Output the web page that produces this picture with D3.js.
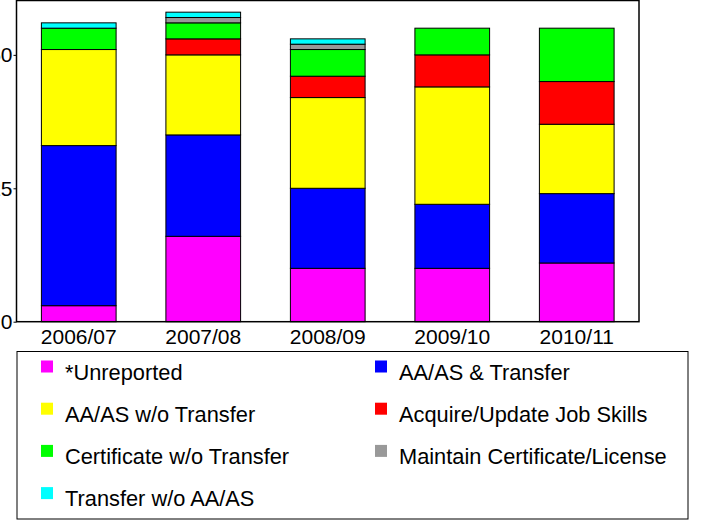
<!DOCTYPE html>
<html>
<head>
<meta charset="utf-8">
<script src="https://cdn.jsdelivr.net/npm/d3@7"></script>
<style>
  body { margin: 0; background: #fff; }
  svg { display: block; font-family: "Liberation Sans", Arial, sans-serif; }
</style>
</head>
<body>
<svg id="chart" width="702" height="523"></svg>
<script>
// years on the x axis
const years = ["2006/07", "2007/08", "2008/09", "2009/10", "2010/11"];

// series, bottom of the stack first
const seriesNames = [
    "*Unreported",
    "AA/AS & Transfer",
    "AA/AS w/o Transfer",
    "Acquire/Update Job Skills",
    "Certificate w/o Transfer",
    "Maintain Certificate/License",
    "Transfer w/o AA/AS"
];
const seriesColors = ["#ff00ff", "#0000ff", "#ffff00", "#ff0000", "#00ff00", "#999999", "#00ffff"];

const unreported   = [3, 16, 10, 10, 11];
const aaTransfer   = [30, 19, 15, 12, 13];
const aaNoTransfer = [18, 15, 17, 22, 13];
const jobSkills    = [0, 3, 4, 6, 8];
const certificate  = [4, 3, 5, 5, 10];
const maintainCert = [0, 1, 1, 0, 0];
const transferOnly = [1, 1, 1, 0, 0];

const yTicks = [0, 25, 50];

const seriesValues = [unreported, aaTransfer, aaNoTransfer, jobSkills, certificate, maintainCert, transferOnly];

const buildChart = (svgName) => {
    let chart = d3.select(svgName);
    let margin = { left: 16.5, right: 639, top: 0.5, bottom: 321.7 };

    // rows for d3.stack
    let rows = years.map((yr, i) => {
        let r = { year: yr };
        seriesNames.forEach((s, j) => { r[s] = seriesValues[j][i]; });
        return r;
    });
    let stacked = d3.stack().keys(seriesNames)(rows);

    let x = d3.scaleBand()
        .domain(years)
        .range([margin.left, margin.right])
        .paddingInner(0.4)
        .paddingOuter(0.2);
    let y = d3.scaleLinear()
        .domain([0, 60])
        .range([margin.bottom, 1.5]);

    // bars
    stacked.forEach((layer, j) => {
        chart.append("g")
            .selectAll("rect")
            .data(layer.filter(d => d[1] - d[0] > 0))
            .enter().append("rect")
            .attr("x", d => x(d.data.year))
            .attr("y", d => y(d[1]))
            .attr("width", x.bandwidth())
            .attr("height", d => y(d[0]) - y(d[1]))
            .attr("fill", seriesColors[j])
            .attr("stroke", "#000")
            .attr("stroke-width", 1);
    });

    // plot frame
    chart.append("rect")
        .attr("x", margin.left)
        .attr("y", margin.top)
        .attr("width", margin.right - margin.left)
        .attr("height", margin.bottom - margin.top)
        .attr("fill", "none")
        .attr("stroke", "#000")
        .attr("stroke-width", 1.5);

    // y axis (labels run off the left edge, as in the original)
    let yAxis = d3.axisLeft(y).tickValues(yTicks).tickSize(3).tickPadding(1);
    let gy = chart.append("g")
        .attr("transform", "translate(" + margin.left + ",0)")
        .call(yAxis);
    gy.select(".domain").remove();
    gy.selectAll("text").style("font-size", "21px").attr("fill", "#000")
        .style("font-family", "'Liberation Sans', Arial, sans-serif");

    // x axis labels
    let xAxis = d3.axisBottom(x).tickSize(0).tickPadding(7);
    let gx = chart.append("g")
        .attr("transform", "translate(0," + margin.bottom + ")")
        .call(xAxis);
    gx.select(".domain").remove();
    gx.selectAll("text").style("font-size", "21px").attr("fill", "#000")
        .style("font-family", "'Liberation Sans', Arial, sans-serif");

    // legend
    chart.append("rect")
        .attr("x", 17)
        .attr("y", 351.5)
        .attr("width", 671)
        .attr("height", 167.5)
        .attr("fill", "#fff")
        .attr("stroke", "#000")
        .attr("stroke-width", 1);

    let legend = chart.append("g");
    seriesNames.forEach((s, j) => {
        let col = j % 2;
        let row = Math.floor(j / 2);
        let lx = col === 0 ? 41 : 375;
        let ly = 360.5 + row * 42.2;
        legend.append("rect")
            .attr("x", lx)
            .attr("y", ly)
            .attr("width", 12)
            .attr("height", 12)
            .attr("fill", seriesColors[j]);
        legend.append("text")
            .attr("x", lx + 24)
            .attr("y", ly + 19)
            .style("font-size", "21.8px")
            .text(s);
    });
}

buildChart("#chart");
</script>
</body>
</html>
